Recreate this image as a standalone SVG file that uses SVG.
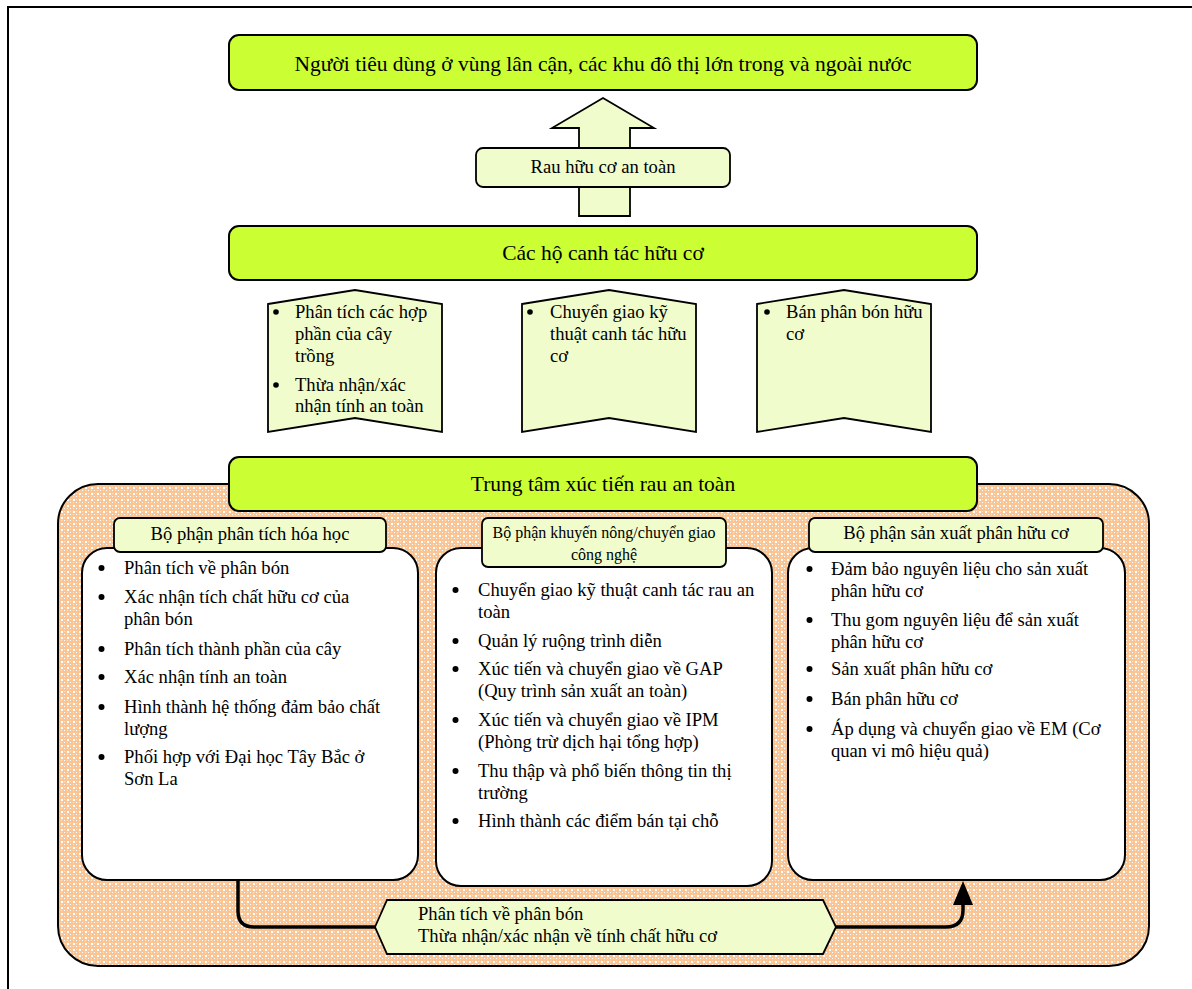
<svg xmlns="http://www.w3.org/2000/svg" width="1192" height="989" viewBox="0 0 1192 989">
<defs>
<pattern id="peach" width="6" height="6" patternUnits="userSpaceOnUse">
<rect width="6" height="6" fill="#f9c594"/>
<rect x="1" y="1" width="2" height="2" fill="#ffffff"/>
<rect x="4" y="4" width="1" height="1" fill="#ffffff"/>
<rect x="4" y="1" width="1" height="1" fill="#fde6d0"/>
<rect x="1" y="4" width="1" height="1" fill="#fde6d0"/>
</pattern>
<marker id="ah" markerUnits="userSpaceOnUse" markerWidth="24" markerHeight="20" viewBox="0 0 24 20" refX="10" refY="10" orient="auto">
<path d="M0,0 L24,10 L0,20 Z" fill="#000"/>
</marker>
<style>
text{font-family:"Liberation Serif","Times New Roman",serif;fill:#000}
.big{font-size:21.5px;text-anchor:middle}
.mid{font-size:18.6px}
.c{text-anchor:middle}
.hd{font-size:16px;text-anchor:middle}
.green{fill:#ccff33;stroke:#000;stroke-width:2}
.light{fill:#f0fccc;stroke:#000;stroke-width:1.8}
.white{fill:#fff;stroke:#000;stroke-width:2}
.conn{fill:none;stroke:#000;stroke-width:3.5}
</style>
</defs>
<rect x="8" y="7" width="1200" height="1000" fill="#fff" stroke="#000" stroke-width="2"/>

<g id="arrow-up">
<path d="M603,98 L654,128 L630,128 L630,216 L579,216 L579,128 L552,128 Z" class="light" stroke-width="1.3"/>
</g>

<g id="consumers">
<rect x="229" y="35" width="748" height="55" rx="10" class="green"/>
<text x="603" y="71" class="big">Người tiêu dùng ở vùng lân cận, các khu đô thị lớn trong và ngoài nước</text>
</g>

<g id="safe-veg">
<rect x="476" y="148" width="254" height="39" rx="7" class="light"/>
<text x="603" y="173" class="mid c">Rau hữu cơ an toàn</text>
</g>

<g id="farmers">
<rect x="229" y="226" width="748" height="54" rx="10" class="green"/>
<text x="603" y="260" class="big">Các hộ canh tác hữu cơ</text>
</g>

<g id="banner1">
<path d="M268,304 L355,290 L442,304 L442,432 L355,418 L268,432 Z" class="light" stroke-width="1.3"/>
<circle cx="276" cy="312" r="2.8"/>
<text x="295" y="318" class="mid">Phân tích các hợp</text>
<text x="295" y="340" class="mid">phần của cây</text>
<text x="295" y="362" class="mid">trồng</text>
<circle cx="276" cy="385" r="2.8"/>
<text x="295" y="391" class="mid">Thừa nhận/xác</text>
<text x="295" y="412" class="mid">nhận tính an toàn</text>
</g>

<g id="banner2">
<path d="M522,304 L609,290 L696,304 L696,432 L609,418 L522,432 Z" class="light" stroke-width="1.3"/>
<circle cx="530" cy="312" r="2.8"/>
<text x="550" y="318" class="mid">Chuyển giao kỹ</text>
<text x="550" y="340" class="mid">thuật canh tác hữu</text>
<text x="550" y="362" class="mid">cơ</text>
</g>

<g id="banner3">
<path d="M757,304 L844,290 L931,304 L931,432 L844,418 L757,432 Z" class="light" stroke-width="1.3"/>
<circle cx="767" cy="312" r="2.8"/>
<text x="786" y="318" class="mid">Bán phân bón hữu</text>
<text x="786" y="340" class="mid">cơ</text>
</g>

<g id="center-container">
<rect x="58" y="484" width="1091" height="482" rx="40" fill="url(#peach)" stroke="#000" stroke-width="2"/>
</g>

<g id="center">
<rect x="229" y="457" width="748" height="54" rx="10" class="green"/>
<text x="603" y="491" class="big">Trung tâm xúc tiến rau an toàn</text>
</g>

<g id="chem-dept">
<rect x="82" y="548" width="336" height="332" rx="25" class="white"/>
<rect x="114" y="518" width="272" height="34" rx="6" class="light"/>
<text x="250" y="540" class="mid c">Bộ phận phân tích hóa học</text>
<circle cx="101.5" cy="568" r="3"/>
<text x="124" y="574" class="mid">Phân tích về phân bón</text>
<circle cx="101.5" cy="597" r="3"/>
<text x="124" y="603" class="mid">Xác nhận tích chất hữu cơ của</text>
<text x="124" y="625" class="mid">phân bón</text>
<circle cx="101.5" cy="649" r="3"/>
<text x="124" y="655" class="mid">Phân tích thành phần của cây</text>
<circle cx="101.5" cy="677" r="3"/>
<text x="124" y="683" class="mid">Xác nhận tính an toàn</text>
<circle cx="101.5" cy="707" r="3"/>
<text x="124" y="713" class="mid">Hình thành hệ thống đảm bảo chất</text>
<text x="124" y="735" class="mid">lượng</text>
<circle cx="101.5" cy="757" r="3"/>
<text x="124" y="763" class="mid">Phối hợp với Đại học Tây Bắc ở</text>
<text x="124" y="785" class="mid">Sơn La</text>
</g>

<g id="ext-dept">
<rect x="436" y="548" width="336" height="338" rx="25" class="white"/>
<rect x="482" y="518" width="244" height="49" rx="6" class="light"/>
<text x="604" y="538" class="hd">Bộ phận khuyến nông/chuyển giao</text>
<text x="604" y="560" class="hd">công nghệ</text>
<circle cx="455.5" cy="590" r="3"/>
<text x="478" y="596" class="mid">Chuyển giao kỹ thuật canh tác rau an</text>
<text x="478" y="618" class="mid">toàn</text>
<circle cx="455.5" cy="641" r="3"/>
<text x="478" y="647" class="mid">Quản lý ruộng trình diễn</text>
<circle cx="455.5" cy="669" r="3"/>
<text x="478" y="675" class="mid">Xúc tiến và chuyển giao về GAP</text>
<text x="478" y="697" class="mid">(Quy trình sản xuất an toàn)</text>
<circle cx="455.5" cy="720" r="3"/>
<text x="478" y="726" class="mid">Xúc tiến và chuyển giao về IPM</text>
<text x="478" y="748" class="mid">(Phòng trừ dịch hại tổng hợp)</text>
<circle cx="455.5" cy="771" r="3"/>
<text x="478" y="777" class="mid">Thu thập và phổ biến thông tin thị</text>
<text x="478" y="799" class="mid">trường</text>
<circle cx="455.5" cy="821" r="3"/>
<text x="478" y="827" class="mid">Hình thành các điểm bán tại chỗ</text>
</g>

<g id="fert-dept">
<rect x="788" y="548" width="337" height="332" rx="25" class="white"/>
<rect x="809" y="518" width="294" height="34" rx="6" class="light"/>
<text x="956" y="539" class="mid c">Bộ phận sản xuất phân hữu cơ</text>
<circle cx="809.5" cy="569" r="3"/>
<text x="831" y="575" class="mid">Đảm bảo nguyên liệu cho sản xuất</text>
<text x="831" y="597" class="mid">phân hữu cơ</text>
<circle cx="809.5" cy="620" r="3"/>
<text x="831" y="626" class="mid">Thu gom nguyên liệu để sản xuất</text>
<text x="831" y="648" class="mid">phân hữu cơ</text>
<circle cx="809.5" cy="669" r="3"/>
<text x="831" y="675" class="mid">Sản xuất phân hữu cơ</text>
<circle cx="809.5" cy="699" r="3"/>
<text x="831" y="705" class="mid">Bán phân hữu cơ</text>
<circle cx="809.5" cy="729" r="3"/>
<text x="831" y="735" class="mid">Áp dụng và chuyển giao về EM (Cơ</text>
<text x="831" y="757" class="mid">quan vi mô hiệu quả)</text>
</g>

<g id="connectors">
<path d="M238,880 V911 Q238,927 254,927 H376" class="conn"/>
<path d="M835,927 H946 Q963,927 963,910 V895" class="conn" marker-end="url(#ah)"/>
</g>

<g id="fert-analysis">
<path d="M375,927 L387,900 L823,900 L836,927 L823,954 L387,954 Z" class="light" stroke-width="1.5"/>
<text x="418" y="920" class="mid">Phân tích về phân bón</text>
<text x="418" y="942" class="mid">Thừa nhận/xác nhận về tính chất hữu cơ</text>
</g>
</svg>
